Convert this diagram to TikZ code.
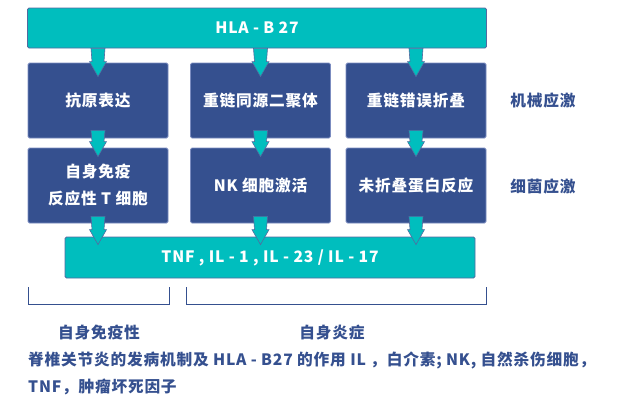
\documentclass[tikz,border=0pt]{standalone}
\usepackage{fontspec}
\setmainfont{Noto Sans CJK SC}[LetterSpace=5]
\usetikzlibrary{calc}
\definecolor{cTeal}{HTML}{00BEBE}
\definecolor{cBlue}{HTML}{35508F}
\definecolor{cEdge}{HTML}{7B8CC0}

% block arrow: from, to, column, start shift, tip depth
\newcommand{\flow}[5]{%
  \path[flowarrow] let \p1=(#1.south -| #3.center), \p2=(#2.north -| #3.center) in
    (\x1-7,\y1+#4) -- (\x1+7,\y1+#4) -- (\x1+6,\y2-#5+15) -- (\x1+8.5,\y2-#5+15)
    -- (\x1,\y2-#5) -- (\x1-8.5,\y2-#5+15) -- (\x1-6,\y2-#5+15) -- cycle;}

\begin{document}
\begin{tikzpicture}[x=1pt,y=-1pt,
    txt/.style={font=\bfseries\fontsize{15.7}{27}\selectfont},
    tealbox/.style={txt,fill=cTeal,draw=cBlue!85,line width=0.8pt,rounded corners=1.5pt,text=white,inner sep=0pt},
    bluebox/.style={txt,fill=cBlue,draw=cEdge,line width=0.8pt,rounded corners=1.5pt,text=white,align=center,
      minimum width=140pt,minimum height=75pt,inner sep=0pt},
    side/.style={txt,text=cBlue},
    flowarrow/.style={fill=cTeal,draw=cBlue!85,line width=0.6pt,line join=miter},
    bracket/.style={draw=cBlue,line width=1pt}]
  \useasboundingbox (0,0) rectangle (640,407);

  \node[tealbox,minimum width=459pt,minimum height=40pt] (hla) at (257,28) {HLA - B 27};

  \node[bluebox] (antigen) at (98,100.5)  {抗原表达};
  \node[bluebox] (dimer)   at (260.5,100.5) {重链同源二聚体};
  \node[bluebox] (misfold) at (416,100.5) {重链错误折叠};
  \node[side] (mech) at (543,101) {机械应激};

  \node[bluebox] (tcell)    at (98,185.5)  {自身免疫\\反应性 T 细胞};
  \node[bluebox] (nkcell)   at (260.5,185.5) {NK 细胞激活};
  \node[bluebox] (unfolded) at (416,185.5) {未折叠蛋白反应};
  \node[side] (bact) at (543,186) {细菌应激};

  \node[tealbox,minimum width=410pt,minimum height=41pt] (tnf) at (270,257.5) {TNF , IL - 1 , IL - 23 / IL - 17};

  \flow{hla}{antigen}{antigen}{0}{14}
  \flow{hla}{dimer}{dimer}{0}{14}
  \flow{hla}{misfold}{misfold}{0}{14}
  \flow{antigen}{tcell}{antigen}{8}{9}
  \flow{dimer}{nkcell}{dimer}{8}{9}
  \flow{misfold}{unfolded}{misfold}{8}{9}
  \flow{tcell}{tnf}{tcell}{7}{8}
  \flow{nkcell}{tnf}{nkcell}{7}{8}
  \flow{unfolded}{tnf}{unfolded}{7}{8}

  \draw[bracket] (28,287) |- (169,304) -- (169,287);   % autoimmune
  \draw[bracket] (186,287) |- (486,304) -- (486,287);  % autoinflammatory
  \node[side] (autoimm) at (99,333) {自身免疫性};
  \node[side] (autoinf) at (332,333) {自身炎症};

  \node[side,anchor=west,align=left,inner sep=0pt] (caption) at (28,373.5)
    {脊椎关节炎的发病机制及 HLA - B27 的作用 IL ，白介素; NK, 自然杀伤细胞，\\TNF，肿瘤坏死因子};
\end{tikzpicture}
\end{document}
